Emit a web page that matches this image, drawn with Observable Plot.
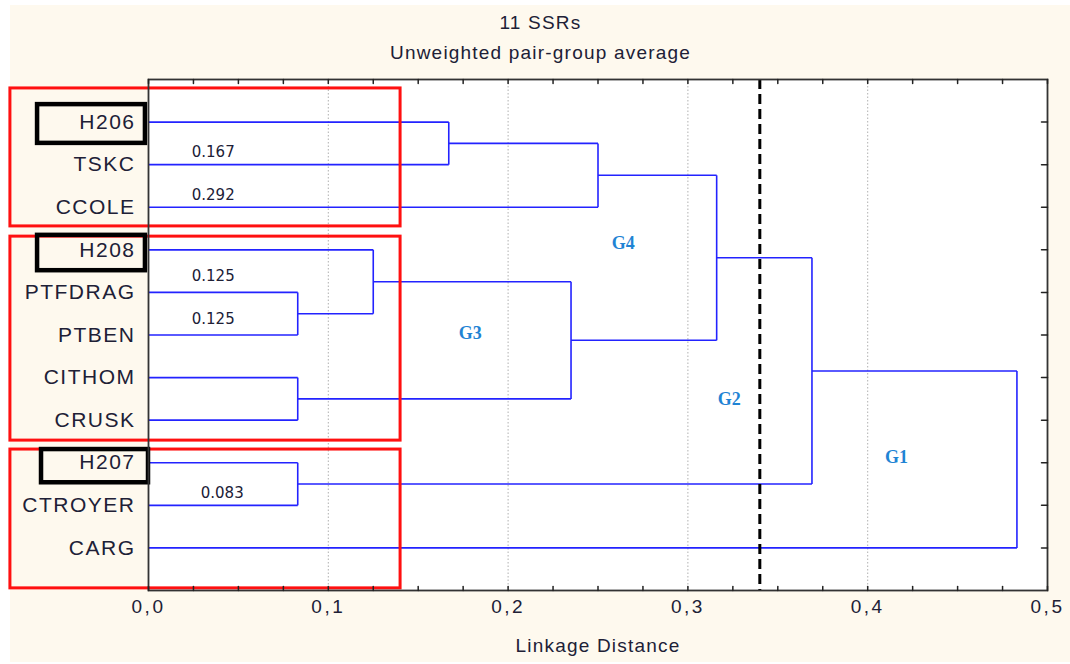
<!DOCTYPE html>
<html><head><meta charset="utf-8">
<script src="https://cdn.jsdelivr.net/npm/d3@7"></script>
<script src="https://cdn.jsdelivr.net/npm/@observablehq/plot@0.6"></script>
<style>
html,body{margin:0;padding:0;background:#fff;width:1070px;height:664px;overflow:hidden;}
#bg{position:absolute;left:10px;top:5px;width:1060px;height:657px;background:#fef9ee;}
#chart{position:absolute;left:0;top:0;}
#chart svg g[aria-label="y-axis tick label"] text{letter-spacing:1.5px;}
#chart svg g[aria-label="x-axis tick label"] text{letter-spacing:2.5px;}
#chart svg g.ttl text{letter-spacing:1.2px;}
</style></head><body><div id="bg"></div><div id="chart"></div>
<script>
// Leaves (top to bottom)
const leaves = ["H206","TSKC","CCOLE","H208","PTFDRAG","PTBEN","CITHOM","CRUSK","H207","CTROYER","CARG"];
// Merges: node ids 0..10 are leaves, merge k creates node 11+k
const mergeA = [0, 11, 4, 3, 6, 14, 12, 8, 17, 19];
const mergeB = [1, 2, 5, 13, 7, 15, 16, 9, 18, 10];
const mergeHeight = [0.167, 0.25, 0.083, 0.125, 0.083, 0.235, 0.316, 0.083, 0.369, 0.483];
// Axis ticks
const xTicks = [0, 0.1, 0.2, 0.3, 0.4, 0.5];
const xTickLabels = ["0,0","0,1","0,2","0,3","0,4","0,5"];
const xMinorTicks = d3.range(0, 21).map(i => i * 0.025);
// Distance annotations on leaves
const distLeaf = ["TSKC","CCOLE","PTFDRAG","PTBEN","CTROYER"];
const distText = ["0.167","0.292","0.125","0.125","0.083"];
// Group labels
const groupNames = ["G4","G3","G2","G1"];
const groupX = [0.264, 0.179, 0.323, 0.416];
const groupRow = [2.85, 4.97, 6.52, 7.88];
// Cut line
const cutDistance = 0.34;
// Annotation boxes
const redBoxTop = [-0.79, 2.69, 7.69];
const redBoxBottom = [2.45, 7.48, 10.95];
const highlighted = ["H206","H208","H207"];
const hlTop = [-0.41, 2.66, 7.69];
const hlBottom = [0.50, 3.49, 8.47];

// Build tree geometry
const nodeX = leaves.map(() => 0);
const nodeY = leaves.map((d, i) => i);
mergeA.forEach((a, k) => {
  const b = mergeB[k];
  nodeX.push(mergeHeight[k]);
  nodeY.push((nodeY[a] + nodeY[b]) / 2);
});
const segs = [];
mergeA.forEach((a, k) => {
  const b = mergeB[k], h = mergeHeight[k];
  segs.push({x1: nodeX[a], y1: nodeY[a], x2: h, y2: nodeY[a]});
  segs.push({x1: nodeX[b], y1: nodeY[b], x2: h, y2: nodeY[b]});
  segs.push({x1: h, y1: nodeY[a], x2: h, y2: nodeY[b]});
});

const redBoxes = redBoxTop.map((t, i) => ({x1: -0.0768, x2: 0.1402, y1: t, y2: redBoxBottom[i]}));
const hlBoxes = highlighted.map((n, i) => ({x1: i === 2 ? -0.0595 : -0.0617, x2: i === 2 ? 0 : -0.0017, y1: hlTop[i], y2: hlBottom[i]}));
const distData = distLeaf.map((n, i) => ({x: 0.036 + (n === "CTROYER" ? 0.005 : 0), y: leaves.indexOf(n), t: distText[i], up: (n === "PTFDRAG" || n === "PTBEN") ? -16 : -12}));
const groups = groupNames.map((g, i) => ({x: groupX[i], y: groupRow[i], t: g}));

const tickShape = {draw(ctx, l) { ctx.moveTo(0, 0); ctx.lineTo(0, -l); }};
const txt = "#202036";

const plot = Plot.plot({
  width: 1070, height: 664,
  marginLeft: 148, marginRight: 23, marginTop: 79, marginBottom: 74,
  style: {background: "transparent", fontFamily: "'Liberation Sans', Arial, sans-serif", color: txt},
  x: {domain: [0, 0.5]},
  y: {domain: [-1, 11], reverse: true},
  marks: [
    Plot.frame({fill: "white", stroke: null}),
    Plot.ruleX([0.1, 0.2, 0.3, 0.4], {stroke: "#b0b0b0", strokeDasharray: "1.5,2", strokeWidth: 1}),
    Plot.link(segs, {x1: "x1", y1: "y1", x2: "x2", y2: "y2", stroke: "#2323ff", strokeWidth: 1.6}),
    Plot.ruleX([cutDistance], {stroke: "black", strokeWidth: 3, strokeDasharray: "10,5"}),
    Plot.rect(redBoxes, {x1: "x1", x2: "x2", y1: "y1", y2: "y2", fill: "none", stroke: "#ff1010", strokeWidth: 3}),
    Plot.rect(hlBoxes, {x1: "x1", x2: "x2", y1: "y1", y2: "y2", fill: "none", stroke: "black", strokeWidth: 4.5}),
    Plot.text(distData, {x: "x", y: "y", text: "t", fontFamily: "'DejaVu Sans', Verdana, sans-serif", fontSize: 15, fill: txt, className: "dist"}),
    Plot.text(groups, {x: "x", y: "y", text: "t", fontFamily: "'Liberation Serif', 'Times New Roman', serif", fontWeight: "bold", fontSize: 18, fill: "#1f84d4"}),
    Plot.frame({stroke: "#333", strokeWidth: 1.8}),
    Plot.vector(xMinorTicks, {x: d => d, frameAnchor: "bottom", length: 4, rotate: 0, anchor: "start", shape: tickShape, stroke: "#222", strokeWidth: 1.5}),
    Plot.vector(xMinorTicks, {x: d => d, frameAnchor: "top", length: 4, rotate: 180, anchor: "start", shape: tickShape, stroke: "#222", strokeWidth: 1.5}),
    Plot.vector(d3.range(11), {y: d => d, frameAnchor: "right", length: 6, rotate: 270, anchor: "start", shape: tickShape, stroke: "#222", strokeWidth: 1.5}),
    Plot.axisX(xTicks, {anchor: "bottom", tickSize: 0, tickPadding: 9, tickFormat: (d, i) => xTickLabels[i], fontSize: 19, fill: txt, label: null}),
    Plot.axisY(d3.range(11), {anchor: "left", tickSize: 0, tickPadding: 13, tickFormat: i => leaves[i], fontSize: 21, fill: txt, label: null}),
    Plot.text(["Linkage Distance"], {frameAnchor: "bottom", dy: 55, lineAnchor: "middle", fontSize: 19, fill: txt, className: "ttl"}),
    Plot.text(["11 SSRs"], {frameAnchor: "top-left", dx: 540 - 148, dy: -57, textAnchor: "middle", lineAnchor: "middle", fontSize: 19, fill: txt, className: "ttl"}),
    Plot.text(["Unweighted pair-group average"], {frameAnchor: "top-left", dx: 540 - 148, dy: -27, textAnchor: "middle", lineAnchor: "middle", fontSize: 19, fill: txt, className: "ttl"})
  ]
});
// Distance labels sit just above their leaf line
d3.select(plot).selectAll("g.dist text").attr("dy", (d, i) => distData[i].up + "px");
document.getElementById("chart").appendChild(plot);
</script></body></html>
